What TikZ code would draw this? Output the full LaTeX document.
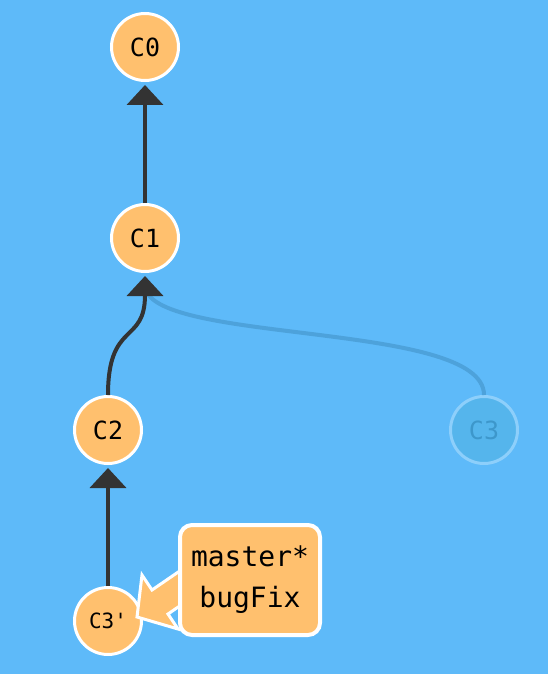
\documentclass[tikz,border=0pt]{standalone}
\usepackage{fontspec}
\newfontfamily\gitfont{DejaVu Sans Mono}
\usetikzlibrary{arrows.meta, calc, positioning}
\definecolor{bgblue}{HTML}{5EBAF9}
\definecolor{commitfill}{HTML}{FFC06E}
\definecolor{edgegray}{HTML}{333333}
\definecolor{ghostfill}{HTML}{55B5EC}
\definecolor{ghostdraw}{HTML}{8DCFFB}
\definecolor{ghosttext}{HTML}{3D97CB}
\definecolor{ghostedge}{HTML}{4DA2DB}

\begin{document}
\begin{tikzpicture}[
        x=1pt, y=-1pt,
        base/.style = {draw=white, line width=3pt, fill=commitfill},
        commit/.style = {base, circle, minimum size=67pt, inner sep=0pt,
                         font=\gitfont\fontsize{25}{30}\selectfont},
        ghost/.style = {commit, draw=ghostdraw, fill=ghostfill, text=ghosttext},
        parent/.style = {draw=edgegray, line width=4pt, shorten >=3pt,
                         -{Triangle[width=36pt, length=20pt]}},
        ghostline/.style = {draw=ghostedge, line width=4pt},
        branch/.style = {base, line width=4pt, rounded corners=12pt,
                         minimum width=140pt, minimum height=110pt, align=center,
                         font=\gitfont\fontsize{28}{41}\selectfont},
        ]
        \fill [bgblue] (0,0) rectangle (548,674);
        \node [commit] (C0) at (145,47) {C0};
        \node [commit] (C1) at (145,238) {C1};
        \node [commit] (C2) at (108,430) {C2};
        \node [ghost] (C3) at (484,430) {C3};
        \node [commit, font=\gitfont\fontsize{21}{25}\selectfont] (C3p) at (108,621) {C3'};

        \draw [ghostline] (C3.north) .. controls +(0,-75) and +(0,60)
            .. ([yshift=-12pt]C1.south);
        \draw [parent] (C1) -- (C0);
        \draw [parent] (C2.north) .. controls +(0,-75) and +(0,72) .. (C1.south);
        \draw [parent] (C3p) -- (C2);

        % label pointing at C3'
        \coordinate (tip) at (137,617);
        \draw [base, line join=miter] (tip) -- ++(5,-42) -- ++(10,15)
            -- ++(35,-24) -- ++(16,24) -- ++(-35,24) -- ++(10,15) -- cycle;
        \node [branch] (master) at (250,580) {master*\\bugFix};
\end{tikzpicture}
\end{document}
